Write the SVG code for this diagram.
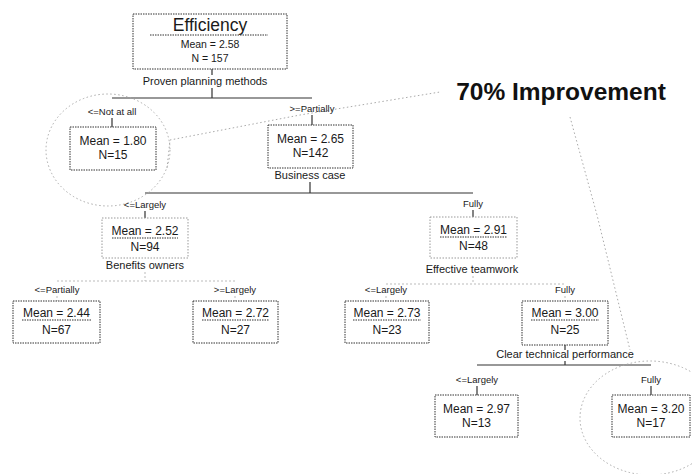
<svg xmlns="http://www.w3.org/2000/svg" width="692" height="474" viewBox="0 0 692 474">
<style>
text{font-family:"Liberation Sans",Arial,sans-serif;fill:#1a1a1a;text-anchor:middle}
.box{fill:none;stroke:#333;stroke-width:1;stroke-dasharray:1.5 1}
.boxf{fill:none;stroke:#999;stroke-width:1;stroke-dasharray:1.5 1.5}
.ln{fill:none;stroke:#333;stroke-width:1.2}
.lnf{fill:none;stroke:#bbb;stroke-width:1;stroke-dasharray:2 2}
.ul{stroke:#333;stroke-width:1;stroke-dasharray:1.5 1}
.call{fill:none;stroke:#aaa;stroke-width:1;stroke-dasharray:1.5 2.5}
.m{font-size:12px}
.lab{font-size:9.5px}
.split{font-size:11px}
</style>
<rect width="692" height="474" fill="#fff"/>
<g id="connectors">
<path class="ln" d="M212,69V75M212,88V98M112,98H312M112,118V127M312,115V125"/>
<path class="ln" d="M310,182V193M145,193H473M145,211V218M473,210V217"/>
<path class="lnf" d="M145,272V281M57,281H235M57,296V301M235,296V301"/>
<path class="lnf" d="M473,276V284M386,284H565M386,296V301M565,296V301"/>
<path class="ln" d="M565,345V350M565,361V365M477,365H651M477,386V395M651,386V395"/>
</g>
<g id="callouts">
<ellipse class="call" cx="108" cy="150" rx="62" ry="56"/>
<path class="call" d="M167,168L170,140L300,115L440,92"/>
<ellipse class="call" cx="650" cy="418" rx="70" ry="57"/>
<path class="call" d="M570,117L597,215L630,350"/>
<text x="561" y="100" style="font-size:24.5px;font-weight:bold;fill:#111">70% Improvement</text>
</g>
<g id="root">
<rect class="box" x="133" y="14" width="154" height="55"/>
<text x="210" y="31" style="font-size:17.5px">Efficiency</text>
<line class="ul" x1="150" y1="35" x2="268" y2="35"/>
<text x="210" y="48" style="font-size:10.5px">Mean = 2.58</text>
<text x="210" y="62" style="font-size:10.5px">N = 157</text>
<text class="split" x="205" y="85">Proven planning methods</text>
</g>
<g id="n180">
<text class="lab" x="112" y="115">&lt;=Not at all</text>
<rect class="box" x="70" y="127" width="86" height="43"/>
<text class="m" x="113" y="145">Mean = 1.80</text>
<text class="m" x="113" y="159">N=15</text>
</g>
<g id="n265">
<text class="lab" x="312" y="112">&gt;=Partially</text>
<rect class="box" x="268" y="125" width="85" height="43"/>
<text class="m" x="310.5" y="143">Mean = 2.65</text>
<text class="m" x="310.5" y="157">N=142</text>
<text class="split" x="310" y="179">Business case</text>
</g>
<g id="n252">
<text class="lab" x="145" y="208">&lt;=Largely</text>
<rect class="boxf" x="102" y="218" width="86" height="40"/>
<text class="m" x="145" y="235">Mean = 2.52</text>
<line class="ul" x1="112" y1="238" x2="178" y2="238"/>
<text class="m" x="145" y="251">N=94</text>
<text class="split" x="145" y="269">Benefits owners</text>
</g>
<g id="n291">
<text class="lab" x="473" y="207">Fully</text>
<rect class="boxf" x="430" y="217" width="87" height="41"/>
<text class="m" x="473.5" y="234">Mean = 2.91</text>
<line class="ul" x1="440" y1="237" x2="507" y2="237"/>
<text class="m" x="473.5" y="250">N=48</text>
<text class="split" x="472" y="273">Effective teamwork</text>
</g>
<g id="n244">
<text class="lab" x="57" y="293">&lt;=Partially</text>
<rect class="box" x="13" y="301" width="87" height="42"/>
<text class="m" x="56.5" y="317">Mean = 2.44</text>
<line class="ul" x1="22" y1="320" x2="91" y2="320"/>
<text class="m" x="56.5" y="334">N=67</text>
</g>
<g id="n272">
<text class="lab" x="235" y="293">&gt;=Largely</text>
<rect class="box" x="193" y="301" width="85" height="42"/>
<text class="m" x="235.5" y="317">Mean = 2.72</text>
<line class="ul" x1="202" y1="320" x2="269" y2="320"/>
<text class="m" x="235.5" y="334">N=27</text>
</g>
<g id="n273">
<text class="lab" x="386" y="293">&lt;=Largely</text>
<rect class="box" x="345" y="301" width="84" height="42"/>
<text class="m" x="387" y="317">Mean = 2.73</text>
<line class="ul" x1="353" y1="320" x2="421" y2="320"/>
<text class="m" x="387" y="334">N=23</text>
</g>
<g id="n300">
<text class="lab" x="565" y="293">Fully</text>
<rect class="box" x="522" y="301" width="86" height="44"/>
<text class="m" x="565" y="317">Mean = 3.00</text>
<line class="ul" x1="531" y1="320" x2="599" y2="320"/>
<text class="m" x="565" y="334">N=25</text>
<text class="split" x="565" y="358">Clear technical performance</text>
</g>
<g id="n297">
<text class="lab" x="477" y="383">&lt;=Largely</text>
<rect class="box" x="435" y="395" width="83" height="42"/>
<text class="m" x="476.5" y="413">Mean = 2.97</text>
<text class="m" x="476.5" y="427">N=13</text>
</g>
<g id="n320">
<text class="lab" x="651" y="383">Fully</text>
<rect class="box" x="612" y="395" width="78" height="42"/>
<text class="m" x="651" y="413">Mean = 3.20</text>
<text class="m" x="651" y="427">N=17</text>
</g>
</svg>
